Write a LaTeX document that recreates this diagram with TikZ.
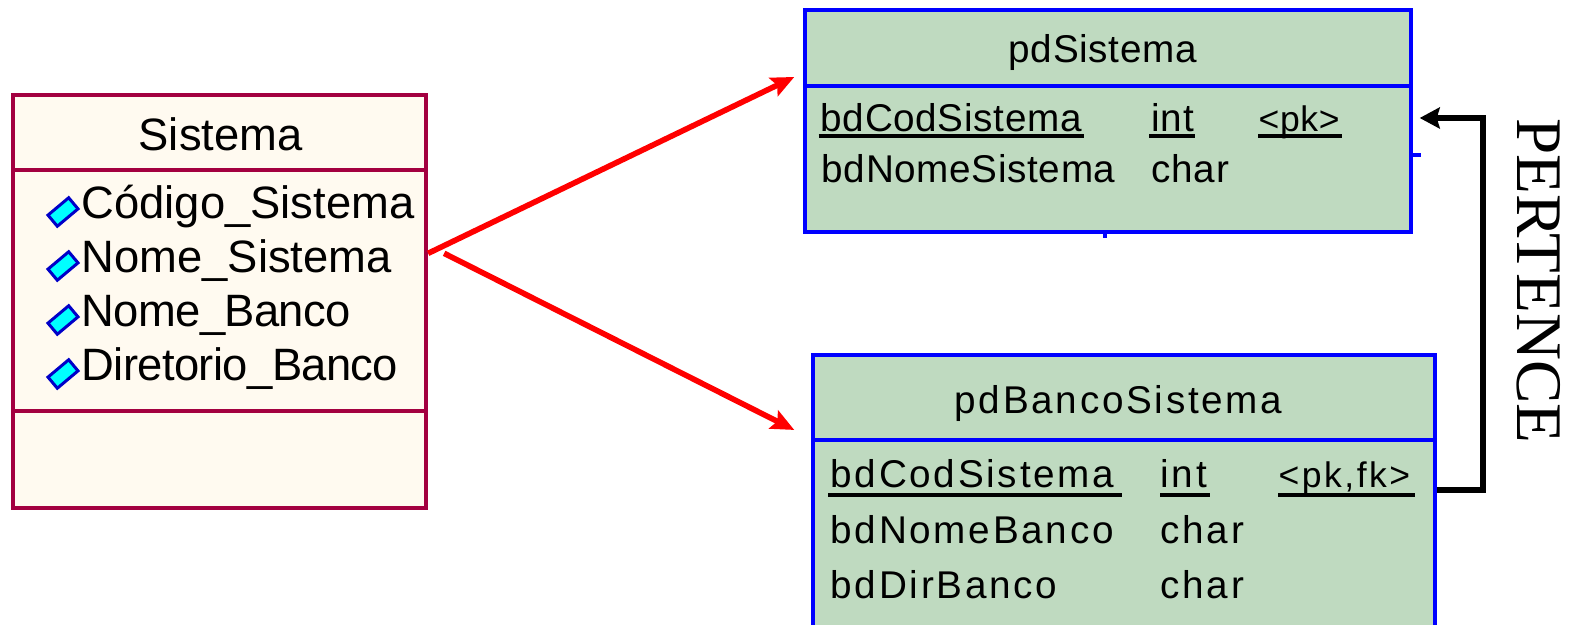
\documentclass[tikz,border=0pt]{standalone}
\usepackage{fontspec}
\setmainfont{Liberation Sans}
\newfontfamily\titlefont{Liberation Sans}
\newfontfamily\tightfont[LetterSpace=-1.4]{Liberation Sans}
\newfontfamily\pdfont[LetterSpace=1.7]{Liberation Sans}
\newfontfamily\bancofont[LetterSpace=7]{Liberation Sans}
\newfontfamily\labelfont{Liberation Serif}
\usetikzlibrary{arrows.meta}
\definecolor{classborder}{HTML}{A30040}
\definecolor{classfill}{HTML}{FFFAF0}
\definecolor{tablefill}{HTML}{BFDAC0}
\definecolor{tableborder}{HTML}{0000FF}
\definecolor{iconborder}{HTML}{0000C8}
\definecolor{iconfill}{HTML}{00FFFF}
\tikzset{
	classbox/.style={draw=classborder, fill=classfill, line width=1.15pt, inner sep=0pt},
	tablebox/.style={draw=tableborder, fill=tablefill, line width=1.15pt, inner sep=0pt},
	classline/.style={draw=classborder, line width=1.15pt},
	tableline/.style={draw=tableborder, line width=1.15pt},
	tick/.style={draw=tableborder, line width=0.9pt},
	keyline/.style={draw=black, line width=0.95pt},
	classtext/.style={anchor=base west, inner sep=0pt, font=\titlefont\fontsize{12.9}{15}\selectfont},
	tighttext/.style={anchor=base west, inner sep=0pt, font=\tightfont\fontsize{12.9}{15}\selectfont},
	pdtext/.style={anchor=base west, inner sep=0pt, font=\pdfont\fontsize{11}{13}\selectfont},
	bancotext/.style={anchor=base west, inner sep=0pt, font=\bancofont\fontsize{11}{13}\selectfont},
	pdkey/.style={anchor=base west, inner sep=0pt, font=\pdfont\fontsize{10.1}{13}\selectfont},
	bancokey/.style={anchor=base west, inner sep=0pt, font=\bancofont\fontsize{10.1}{13}\selectfont},
	attricon/.style={draw=iconborder, fill=iconfill, line width=0.85pt, rotate=40, inner sep=0pt, minimum width=0.27cm, minimum height=0.145cm},
	maparrow/.style={draw=red, line width=1.6pt, -{Stealth[length=0.23cm,width=0.2cm,inset=0.04cm]}},
	fkarrow/.style={draw=black, line width=1.6pt, -{Stealth[length=0.2cm,width=0.21cm,inset=0.03cm]}},
}
\begin{document}
\begin{tikzpicture}[x=0.01cm, y=-0.01cm]
	\clip (0,0) rectangle (1571,625);
	% left class
	\node[classbox, minimum width=4.13cm, minimum height=4.13cm] (sistema) at (219.5,301.5) {};
	\draw[classline] (13,170) -- (426,170);
	\draw[classline] (13,411) -- (426,411);
	\node[classtext] (sistemaTitle) at (138,151) {Sistema};
	\node[attricon] (iconCodigo) at (63,212) {};
	\node[attricon] (iconNome) at (63,266) {};
	\node[attricon] (iconBanco) at (63,320) {};
	\node[attricon] (iconDir) at (63,374) {};
	\node[classtext] (attrCodigo) at (81,219) {Código\_Sistema};
	\node[classtext] (attrNome) at (81,273) {Nome\_Sistema};
	\node[tighttext] (attrBanco) at (81,327) {Nome\_Banco};
	\node[tighttext] (attrDir) at (81,381) {Diretorio\_Banco};

	% upper table
	\draw[tick] (1410,155) -- (1421,155);
	\draw[tick] (1105,232) -- (1105,238);
	\node[tablebox, minimum width=6.05cm, minimum height=2.215cm] (pdSistema) at (1108,121) {};
	\draw[tableline] (805.5,86) -- (1410.5,86);
	\node[pdtext] (pdSistemaTitle) at (1008,63) {pdSistema};
	\node[pdtext] (pdCod) at (820,132) {bdCodSistema};
	\node[pdtext] (pdCodType) at (1151,132) {int};
	\node[pdkey] (pdCodKey) at (1258,132) {<pk>};
	\node[pdtext] (pdNome) at (821,183) {bdNomeSistema};
	\node[pdtext] (pdNomeType) at (1151,183) {char};
	\draw[keyline] (818.5,136) -- (1084,136);
	\draw[keyline] (1149,136) -- (1195,136);
	\draw[keyline] (1258,136) -- (1342,136);

	% lower table
	\node[tablebox, minimum width=6.215cm, minimum height=2.77cm] (pdBanco) at (1124.25,493.5) {};
	\draw[tableline] (813.5,440) -- (1435,440);
	\node[bancotext] (pdBancoTitle) at (954,413) {pdBancoSistema};
	\node[bancotext] (bdCod) at (830,488) {bdCodSistema};
	\node[bancotext] (bdCodType) at (1160,488) {int};
	\node[bancokey] (bdCodKey) at (1278,488) {<pk,fk>};
	\node[bancotext] (bdNome) at (830,543) {bdNomeBanco};
	\node[bancotext] (bdNomeType) at (1160,543) {char};
	\node[bancotext] (bdDir) at (830,598) {bdDirBanco};
	\node[bancotext] (bdDirType) at (1160,598) {char};
	\draw[keyline] (828,495) -- (1121.5,495);
	\draw[keyline] (1160,495) -- (1210,495);
	\draw[keyline] (1278,495) -- (1414.5,495);

	% connectors
	\coordinate (forkLow) at ([xshift=0.16cm]sistema.13.5);
	\draw[maparrow] (sistema.13.5) -- ([xshift=-0.09cm,yshift=0.44cm]pdSistema.west);
	\draw[maparrow] (forkLow) -- ([xshift=-0.17cm,yshift=0.635cm]pdBanco.west);
	\draw[fkarrow] ([yshift=0.035cm]pdBanco.east) -- ++(46,0) |- ([xshift=0.07cm,yshift=0.03cm]pdSistema.east);
	\node[rotate=-90, inner sep=0pt, font=\labelfont\fontsize{18.5}{20}\selectfont] (pertence) at (1539,281) {PERTENCE};
\end{tikzpicture}
\end{document}
